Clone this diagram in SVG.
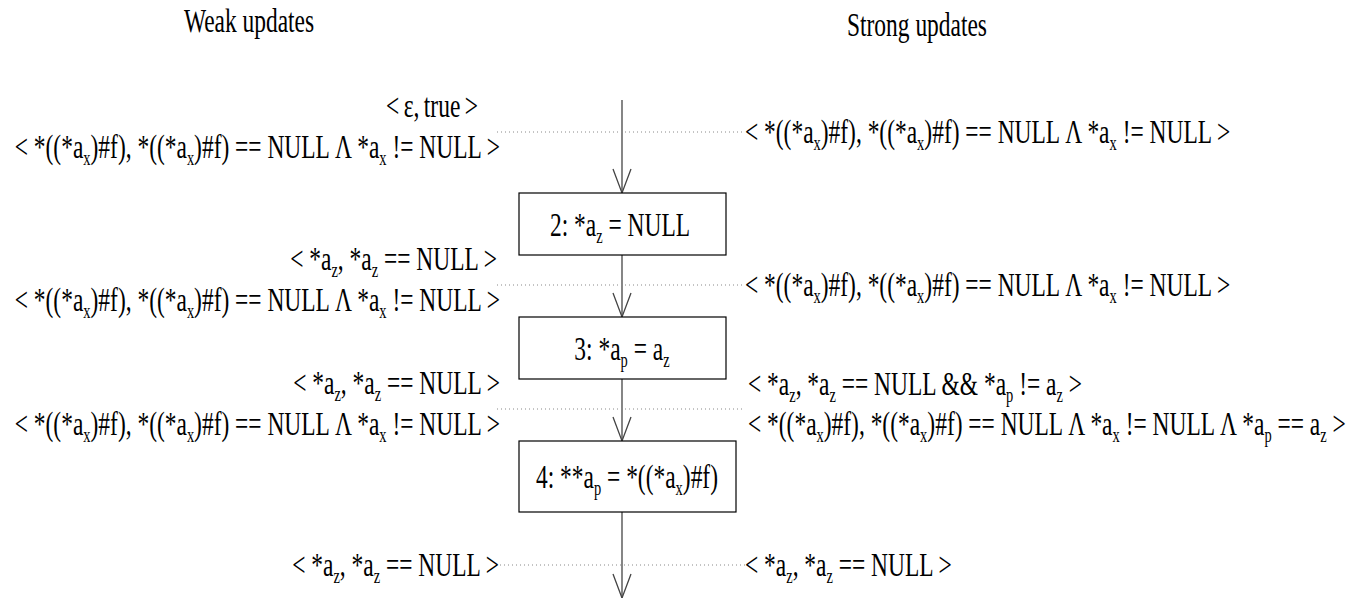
<svg xmlns="http://www.w3.org/2000/svg" width="1368" height="598" viewBox="0 0 1368 598">
<style>
.t{font-family:"Liberation Serif","Times New Roman",serif;font-size:34px;fill:#000}
.s{font-size:21px}
.e{text-anchor:end}
.m{text-anchor:middle}
.box{fill:#fff;stroke:#000;stroke-width:1.2}
.flow{stroke:#444;stroke-width:1.3;fill:none}
.dot{stroke:#888;stroke-width:1;stroke-dasharray:1 3;fill:none}
</style>
<defs>
<marker id="v" viewBox="-26 -11 28 22" markerWidth="28" markerHeight="22" refX="0" refY="0" orient="auto" markerUnits="userSpaceOnUse">
<path d="M -24 -9 Q -8 -3 0 0 Q -8 3 -24 9" fill="none" stroke="#444" stroke-width="1.3"/>
</marker>
</defs>
<rect width="1368" height="598" fill="#fff"/>
<g id="headers">
<text class="t m" transform="translate(249,32) scale(0.69,1)">Weak updates</text>
<text class="t m" transform="translate(917,36) scale(0.69,1)">Strong updates</text>
</g>
<g id="connectors">
<line class="flow" x1="622" y1="100" x2="622" y2="193" marker-end="url(#v)"/>
<line class="flow" x1="622" y1="255" x2="622" y2="317" marker-end="url(#v)"/>
<line class="flow" x1="622" y1="379" x2="622" y2="441" marker-end="url(#v)"/>
<line class="flow" x1="622" y1="512" x2="622" y2="598" marker-end="url(#v)"/>
<line class="dot" x1="497" y1="132" x2="743" y2="132"/>
<line class="dot" x1="497" y1="285" x2="743" y2="285"/>
<line class="dot" x1="497" y1="409" x2="743" y2="409"/>
<line class="dot" x1="500" y1="565" x2="745" y2="565"/>
</g>
<g id="node2">
<rect class="box" x="519" y="193" width="207" height="62"/>
<text class="t m" transform="translate(620,236) scale(0.69,1)">2: *a<tspan class="s" dy="7">z</tspan><tspan dy="-7"> = NULL</tspan></text>
</g>
<g id="node3">
<rect class="box" x="519" y="317" width="207" height="62"/>
<text class="t m" transform="translate(622,360) scale(0.69,1)">3: *a<tspan class="s" dy="7">p</tspan><tspan dy="-7"> = a</tspan><tspan class="s" dy="7">z</tspan></text>
</g>
<g id="node4">
<rect class="box" x="519" y="441" width="217" height="71"/>
<text class="t m" transform="translate(627,488) scale(0.69,1)">4: **a<tspan class="s" dy="7">p</tspan><tspan dy="-7"> = *((*a</tspan><tspan class="s" dy="7">x</tspan><tspan dy="-7">)#f)</tspan></text>
</g>
<g id="weak">
<text class="t e" transform="translate(478,117) scale(0.69,1)" word-spacing="-2">&lt; ε, true &gt;</text>
<text class="t e" transform="translate(500,158) scale(0.69,1)">&lt; *((*a<tspan class="s" dy="7">x</tspan><tspan dy="-7">)#f), *((*a</tspan><tspan class="s" dy="7">x</tspan><tspan dy="-7">)#f) == NULL Λ *a</tspan><tspan class="s" dy="7">x</tspan><tspan dy="-7"> != NULL &gt;</tspan></text>
<text class="t e" transform="translate(497,270) scale(0.69,1)">&lt; *a<tspan class="s" dy="7">z</tspan><tspan dy="-7">, *a</tspan><tspan class="s" dy="7">z</tspan><tspan dy="-7"> == NULL &gt;</tspan></text>
<text class="t e" transform="translate(500,311) scale(0.69,1)">&lt; *((*a<tspan class="s" dy="7">x</tspan><tspan dy="-7">)#f), *((*a</tspan><tspan class="s" dy="7">x</tspan><tspan dy="-7">)#f) == NULL Λ *a</tspan><tspan class="s" dy="7">x</tspan><tspan dy="-7"> != NULL &gt;</tspan></text>
<text class="t e" transform="translate(500,394) scale(0.69,1)">&lt; *a<tspan class="s" dy="7">z</tspan><tspan dy="-7">, *a</tspan><tspan class="s" dy="7">z</tspan><tspan dy="-7"> == NULL &gt;</tspan></text>
<text class="t e" transform="translate(500,435) scale(0.69,1)">&lt; *((*a<tspan class="s" dy="7">x</tspan><tspan dy="-7">)#f), *((*a</tspan><tspan class="s" dy="7">x</tspan><tspan dy="-7">)#f) == NULL Λ *a</tspan><tspan class="s" dy="7">x</tspan><tspan dy="-7"> != NULL &gt;</tspan></text>
<text class="t e" transform="translate(499,576) scale(0.69,1)">&lt; *a<tspan class="s" dy="7">z</tspan><tspan dy="-7">, *a</tspan><tspan class="s" dy="7">z</tspan><tspan dy="-7"> == NULL &gt;</tspan></text>
</g>
<g id="strong">
<text class="t" transform="translate(745,143) scale(0.69,1)">&lt; *((*a<tspan class="s" dy="7">x</tspan><tspan dy="-7">)#f), *((*a</tspan><tspan class="s" dy="7">x</tspan><tspan dy="-7">)#f) == NULL Λ *a</tspan><tspan class="s" dy="7">x</tspan><tspan dy="-7"> != NULL &gt;</tspan></text>
<text class="t" transform="translate(745,296) scale(0.69,1)">&lt; *((*a<tspan class="s" dy="7">x</tspan><tspan dy="-7">)#f), *((*a</tspan><tspan class="s" dy="7">x</tspan><tspan dy="-7">)#f) == NULL Λ *a</tspan><tspan class="s" dy="7">x</tspan><tspan dy="-7"> != NULL &gt;</tspan></text>
<text class="t" transform="translate(748,395) scale(0.69,1)">&lt; *a<tspan class="s" dy="7">z</tspan><tspan dy="-7">, *a</tspan><tspan class="s" dy="7">z</tspan><tspan dy="-7"> == NULL &amp;&amp; *a</tspan><tspan class="s" dy="7">p</tspan><tspan dy="-7"> != a</tspan><tspan class="s" dy="7">z</tspan><tspan dy="-7"> &gt;</tspan></text>
<text class="t" transform="translate(748,435) scale(0.69,1)">&lt; *((*a<tspan class="s" dy="7">x</tspan><tspan dy="-7">)#f), *((*a</tspan><tspan class="s" dy="7">x</tspan><tspan dy="-7">)#f) == NULL Λ *a</tspan><tspan class="s" dy="7">x</tspan><tspan dy="-7"> != NULL Λ *a</tspan><tspan class="s" dy="7">p</tspan><tspan dy="-7"> == a</tspan><tspan class="s" dy="7">z</tspan><tspan dy="-7"> &gt;</tspan></text>
<text class="t" transform="translate(745,576) scale(0.69,1)">&lt; *a<tspan class="s" dy="7">z</tspan><tspan dy="-7">, *a</tspan><tspan class="s" dy="7">z</tspan><tspan dy="-7"> == NULL &gt;</tspan></text>
</g>
</svg>
